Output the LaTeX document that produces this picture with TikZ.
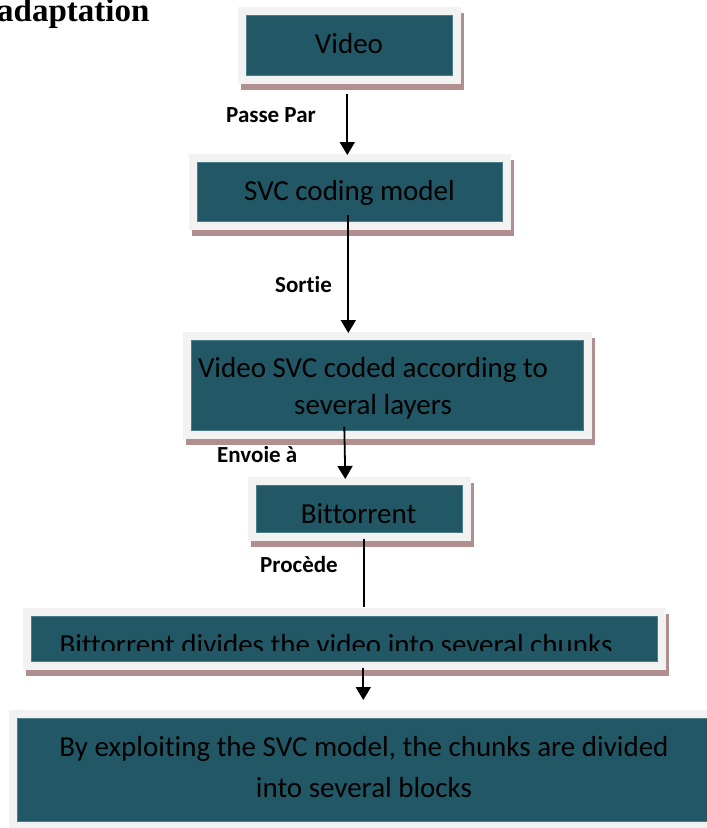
\documentclass[tikz,border=0pt]{standalone}
\usepackage{fontspec}
\setmainfont{Carlito}[Ligatures=NoCommon]
\newfontfamily\headfont{Liberation Serif}
\usetikzlibrary{calc,arrows.meta,backgrounds}
\definecolor{boxteal}{HTML}{225866}
\definecolor{framegray}{HTML}{F2F2F2}
\definecolor{shadowrose}{HTML}{B28F8F}
\definecolor{tealedge}{HTML}{4A7C89}
\tikzset{
  stage/.style={rectangle, draw=tealedge, line width=0.6pt, fill=boxteal,
    inner sep=0pt, anchor=north west},
  boxtext/.style={font=\fontsize{29}{37}\selectfont, text=black, inner sep=0pt,
    align=center, anchor=base},
  verb/.style={font=\fontsize{23}{28}\selectfont\bfseries, inner sep=0pt,
    anchor=base west},
  flow/.style={line width=1.8pt, -{Triangle[width=15pt,length=13pt]}},
  plainflow/.style={line width=1.8pt},
}
% light frame around a stage box, with a rose drop shadow
\newcommand{\framedstage}[1]{%
  \fill[shadowrose] ($(#1.north west)+(-5,-2)$) rectangle ($(#1.south east)+(11,14)$);
  \fill[framegray] ($(#1.north west)+(-8,-8)$) rectangle ($(#1.south east)+(8,8)$);
}
\begin{document}
\begin{tikzpicture}[x=1pt,y=-1pt]
\useasboundingbox (0,0) rectangle (707,828);

% heading fragment
\node[font=\headfont\bfseries\fontsize{33}{33}\selectfont, anchor=base west,
  inner sep=0pt] (title) at (-3,21) {adaptation};

% stage boxes
\node[stage, minimum width=206pt, minimum height=60pt] (video) at (246,15) {};
\node[stage, minimum width=305pt, minimum height=59pt] (svc) at (197,162) {};
\node[stage, minimum width=392pt, minimum height=90pt] (coded) at (191,340) {};
\node[stage, minimum width=206pt, minimum height=47pt] (bitt) at (256,485) {};
\node[stage, minimum width=626pt, minimum height=45pt] (chunks) at (31,616) {};
\node[stage, minimum width=720pt, minimum height=103pt] (blocks) at (17,718) {};

\begin{scope}[on background layer]
  \framedstage{video}
  \framedstage{svc}
  \framedstage{coded}
  \framedstage{bitt}
  \framedstage{chunks}
  \framedstage{blocks}
\end{scope}

% box texts (base anchor sits on the last line)
\node[boxtext] (tvideo) at (349,53) {Video};
\node[boxtext] (tsvc) at (349.5,200) {SVC coding model};
\node[boxtext] (tcoded) at (373,414) {Video SVC coded according to\\several layers};
\node[boxtext] (tbitt) at (358.5,523) {Bittorrent};
\begin{scope}
  \clip (chunks.north west) rectangle ($(chunks.north east)+(0,34)$);
  \node[boxtext] (tchunks) at (336,654) {Bittorrent divides the video into several chunks};
\end{scope}
\node[boxtext, font=\fontsize{29}{41}\selectfont] (tblocks) at (364,797)
  {By exploiting the SVC model, the chunks are divided\\into several blocks};

% connector labels
\node[verb] (lpasse) at (226,122) {Passe Par};
\node[verb] (lsortie) at (275,292) {Sortie};
\node[verb] (lenvoie) at (217,462) {Envoie à};
\node[verb] (lprocede) at (260,572) {Procède};

% connectors
\draw[flow] ($(video.south)+(-2,18)$) -- ($(svc.north)+(-2.5,-7)$);
\draw[flow] ($(svc.south)+(-1.5,-7)$) -- ($(coded.north)+(-39,-7)$);
\draw[flow] ($(coded.south)+(-43,-4)$) -- ($(bitt.north)+(-14,-6)$);
\draw[plainflow] ($(bitt.south)+(5,6)$) -- ($(chunks.north)+(20,-9)$);
\draw[flow] ($(chunks.south)+(19,6)$) -- ($(blocks.north)+(-14,-18)$);
\end{tikzpicture}
\end{document}
